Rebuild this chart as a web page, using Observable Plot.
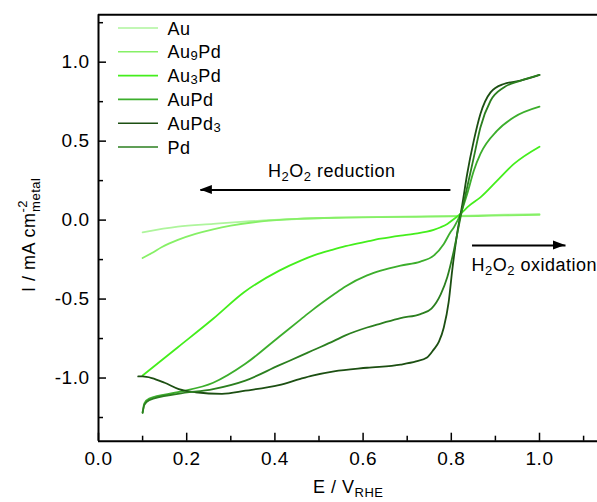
<!DOCTYPE html>
<html><head><meta charset="utf-8">
<script src="https://cdn.jsdelivr.net/npm/d3@7"></script>
<script src="https://cdn.jsdelivr.net/npm/@observablehq/plot@0.6"></script>
<style>body{margin:0;background:#fff} svg{display:block}</style>
</head><body><div id="chart"></div>
<script>
const series = ["Au","Au9Pd","Au3Pd","AuPd","AuPd3","Pd"];
const seriesColors = ["#aef59c","#86f066","#44ee1c","#3cae2c","#1c4f12","#2b7f1f"];

const E_Au  = [0.10,0.18,0.26,0.33,0.45,0.56,0.64,0.72,0.80,0.86,0.92,1.00];
const I_Au  = [-0.077,-0.041,-0.024,-0.010,0.007,0.017,0.021,0.023,0.026,0.030,0.034,0.038];

const E_Au9Pd = [0.10,0.12,0.144,0.18,0.22,0.26,0.30,0.37,0.45,0.56,0.64,0.72,0.80,0.86,0.92,1.00];
const I_Au9Pd = [-0.24,-0.21,-0.17,-0.125,-0.087,-0.058,-0.035,-0.008,0.008,0.016,0.019,0.021,0.023,0.026,0.030,0.034];

const E_Au3Pd = [0.10,0.18,0.26,0.33,0.41,0.46,0.49,0.53,0.56,0.61,0.64,0.685,0.715,0.76,0.776,0.791,0.806,0.821,0.84,0.866,0.904,0.942,1.00];
const I_Au3Pd = [-0.984,-0.805,-0.625,-0.457,-0.32,-0.255,-0.222,-0.188,-0.165,-0.135,-0.118,-0.098,-0.087,-0.062,-0.045,-0.024,0.007,0.04,0.09,0.144,0.25,0.356,0.465];

const E_AuPd = [0.100,0.104,0.115,0.18,0.26,0.333,0.409,0.458,0.485,0.534,0.56,0.609,0.64,0.685,0.73,0.76,0.783,0.798,0.806,0.821,0.836,0.851,0.866,0.904,0.942,1.00];
const I_AuPd = [-1.22,-1.16,-1.13,-1.09,-1.03,-0.91,-0.74,-0.63,-0.57,-0.47,-0.42,-0.35,-0.32,-0.288,-0.263,-0.225,-0.151,-0.077,-0.045,0.04,0.166,0.313,0.419,0.566,0.651,0.718];

const E_AuPd3 = [0.09,0.10,0.121,0.15,0.182,0.22,0.28,0.333,0.409,0.458,0.485,0.534,0.609,0.685,0.72,0.745,0.76,0.772,0.783,0.794,0.802,0.813,0.825,0.836,0.851,0.866,0.889,0.919,0.957,1.00];
const I_AuPd3 = [-0.99,-0.99,-1.0,-1.03,-1.07,-1.09,-1.10,-1.08,-1.045,-1.005,-0.985,-0.958,-0.935,-0.915,-0.895,-0.87,-0.82,-0.77,-0.68,-0.52,-0.32,-0.09,0.10,0.292,0.503,0.672,0.809,0.862,0.883,0.919];

const E_Pd = [0.100,0.104,0.115,0.18,0.26,0.333,0.409,0.458,0.485,0.534,0.56,0.609,0.64,0.685,0.73,0.755,0.776,0.791,0.806,0.821,0.836,0.851,0.866,0.889,0.919,0.957,1.00];
const I_Pd = [-1.22,-1.17,-1.14,-1.10,-1.07,-1.016,-0.92,-0.86,-0.826,-0.765,-0.73,-0.68,-0.655,-0.62,-0.595,-0.56,-0.47,-0.36,-0.19,0.02,0.208,0.397,0.587,0.756,0.84,0.883,0.919];

const xTicks = [0,0.2,0.4,0.6,0.8,1.0];
const xTickLabels = ["0.0","0.2","0.4","0.6","0.8","1.0"];
const xMinor = [0.1,0.3,0.5,0.7,0.9,1.1];
const yTicks = [-1.0,-0.5,0,0.5,1.0];
const yTickLabels = ["-1.0","-0.5","0.0","0.5","1.0"];
const yMinor = [-1.25,-0.75,-0.25,0.25,0.75,1.25];

// annotation arrows (data space)
const arrowE1 = [0.798, 0.847];
const arrowE2 = [0.231, 1.059];
const arrowI  = [0.191, -0.161];
const annoText = ["reduction","oxidation"];

const W = 597, H = 502, mL = 98, mT = 14.3, mB = 61.3, mR = 0;
const innerW = W - mL - mR, innerH = H - mT - mB;
const pxPerE = 441;

const seriesE = [E_Au,E_Au9Pd,E_Au3Pd,E_AuPd,E_AuPd3,E_Pd];
const seriesI = [I_Au,I_Au9Pd,I_Au3Pd,I_AuPd,I_AuPd3,I_Pd];
const rows = [];
series.forEach((s, k) => seriesE[k].forEach((e, i) => rows.push({series: s, E: e, I: seriesI[k][i]})));
const arrows = arrowE1.map((e, i) => ({x1: e, x2: arrowE2[i], y: arrowI[i]}));

const font = "'Liberation Sans', Arial, sans-serif";
const plot = Plot.plot({
  width: W, height: H,
  marginLeft: mL, marginRight: mR, marginTop: mT, marginBottom: mB,
  x: {domain: [0, innerW / pxPerE]},
  y: {domain: [-1.4, 1.3]},
  color: {domain: series, range: seriesColors},
  style: {fontFamily: font, fontSize: "19px", background: "white", color: "black", letterSpacing: "0.5px"},
  marks: [
    Plot.line(rows, {x: "E", y: "I", z: "series", stroke: "series", strokeWidth: 1.8, curve: "monotone-x"}),
    Plot.link(arrows, {x1: "x1", x2: "x2", y1: "y", y2: "y", stroke: "black", strokeWidth: 2}),
    Plot.tickX(xTicks, {x: d => d, insetTop: innerH - 8, stroke: "black", strokeWidth: 1.5}),
    Plot.tickX(xMinor, {x: d => d, insetTop: innerH - 5, stroke: "black", strokeWidth: 1.5}),
    Plot.tickY(yTicks, {y: d => d, insetRight: innerW - 8, stroke: "black", strokeWidth: 1.5}),
    Plot.tickY(yMinor, {y: d => d, insetRight: innerW - 5, stroke: "black", strokeWidth: 1.5}),
    Plot.axisX({ticks: xTicks, tickFormat: d => xTickLabels[xTicks.indexOf(d)], tickSize: 0, tickPadding: 10, fontSize: 19, label: null}),
    Plot.axisY({ticks: yTicks, tickFormat: d => yTickLabels[yTicks.indexOf(d)], tickSize: 0, tickPadding: 9, fontSize: 19, label: null}),
    Plot.ruleX([0], {stroke: "black", strokeWidth: 2}),
    Plot.ruleY([-1.4, 1.3], {stroke: "black", strokeWidth: 2})
  ]
});
document.getElementById("chart").appendChild(plot);

const svg = d3.select(plot);
const sx = plot.scale("x"), sy = plot.scale("y");

// arrowheads
arrows.forEach(a => {
  const tx = sx.apply(a.x2), ty = sy.apply(a.y);
  const dir = a.x2 > a.x1 ? 1 : -1;
  svg.append("path")
    .attr("d", `M${tx},${ty} L${tx - dir * 12},${ty - 4.5} L${tx - dir * 12},${ty + 4.5} Z`)
    .attr("fill", "black");
});

function txt(g, x, y, size) {
  return g.append("text").attr("x", x).attr("y", y).attr("text-anchor", "start")
    .attr("font-family", font).attr("font-size", size).attr("letter-spacing", "0.5px").attr("fill", "black");
}

// annotation texts
function h2o2(g, x, y, word) {
  const t = txt(g, x, y, 18);
  t.append("tspan").text("H");
  t.append("tspan").attr("font-size", 13).attr("dy", 4).text("2");
  t.append("tspan").attr("dy", -4).text("O");
  t.append("tspan").attr("font-size", 13).attr("dy", 4).text("2");
  t.append("tspan").attr("dy", -4).text(" " + word);
}
h2o2(svg, 268, 177, annoText[0]);
h2o2(svg, 471.5, 271, annoText[1]);

// legend
const legend = svg.append("g");
const legendLabels = [["Au"],["Au","9","Pd"],["Au","3","Pd"],["AuPd"],["AuPd","3"],["Pd"]];
series.forEach((s, i) => {
  const y = 28 + i * 23.8;
  legend.append("line").attr("x1", 118).attr("x2", 158).attr("y1", y).attr("y2", y)
    .attr("stroke", seriesColors[i]).attr("stroke-width", 1.6);
  const t = txt(legend, 167.5, y + 6.5, 18);
  legendLabels[i].forEach((part, j) => {
    const sub = /^[0-9]$/.test(part);
    t.append("tspan").attr("font-size", sub ? 13 : 18).attr("dy", sub ? 2 : (j > 0 ? -2 : 0)).text(part);
  });
});

// x axis label
const xl = txt(svg, 313, 493, 18);
xl.append("tspan").text("E / V");
xl.append("tspan").attr("font-size", 13).attr("dy", 4).text("RHE");

// y axis label
const yl = txt(svg, 0, 0, 18).attr("x", null).attr("y", null)
  .attr("transform", "translate(35,292) rotate(-90)");
yl.append("tspan").text("I / mA cm");
yl.append("tspan").attr("font-size", 13).attr("dy", -8).text("-2");
yl.append("tspan").attr("font-size", 13).attr("dx", -12).attr("dy", 13).text("metal");
</script>
</body></html>
